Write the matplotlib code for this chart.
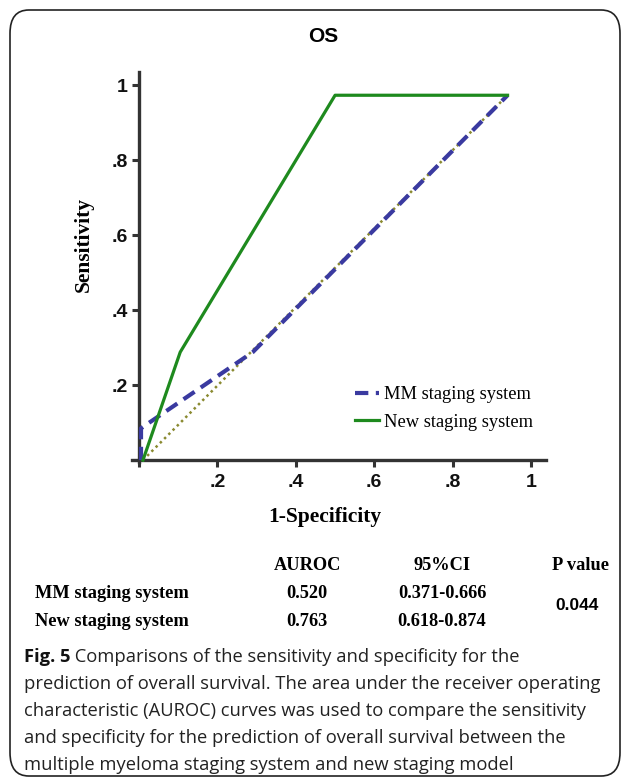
import matplotlib
matplotlib.use("Agg")
import matplotlib.pyplot as plt
from matplotlib.patches import FancyBboxPatch

W, H = 627, 780

# ROC points
new_fpr = [0.01, 0.105, 0.50, 0.94]
new_tpr = [0.0, 0.288, 0.973, 0.973]
mm_fpr = [0.005, 0.005, 0.29, 0.94]
mm_tpr = [0.0, 0.085, 0.288, 0.973]
ref_fpr = [0.01, 0.94]
ref_tpr = [0.0, 0.973]

tick_vals = [0, 0.2, 0.4, 0.6, 0.8, 1.0]
tick_labels = ["", ".2", ".4", ".6", ".8", "1"]

series_names = ["MM staging system", "New staging system"]
auroc = ["0.520", "0.763"]
ci = ["0.371-0.666", "0.618-0.874"]
p_value = "0.044"

caption_bold = "Fig. 5"
caption_lines = [
    " Comparisons of the sensitivity and specificity for the",
    "prediction of overall survival. The area under the receiver operating",
    "characteristic (AUROC) curves was used to compare the sensitivity",
    "and specificity for the prediction of overall survival between the",
    "multiple myeloma staging system and new staging model",
]

SERIF = "Liberation Serif"
SANS = "Liberation Sans"


def fx(x):
    return x / W


def fy(y):
    return 1 - y / H


fig = plt.figure(figsize=(W / 100, H / 100), dpi=100)

# rounded frame around the whole figure panel
frame = FancyBboxPatch((fx(10), fy(776)), fx(610), 766 / H,
                       boxstyle="round,pad=0,rounding_size=0.03",
                       transform=fig.transFigure, fill=False,
                       edgecolor="#222222", linewidth=1.2)
fig.patches.append(frame)

# axes placed in pixel terms
left, right, top, bottom = 132, 546, 72, 462
ax = fig.add_axes([fx(left), fy(bottom), (right - left) / W, (bottom - top) / H])
ax.set_xlim(-0.018, 1.038)
ax.set_ylim(-0.005, 1.035)

ax.plot(ref_fpr, ref_tpr, color="#8a8a30", lw=1.8, ls=(0, (1, 1.4)), zorder=2)
ax.plot(mm_fpr, mm_tpr, color="#3a3aa0", lw=3, ls=(0, (3.2, 1.8)),
        label=series_names[0], zorder=3)
ax.plot(new_fpr, new_tpr, color="#1e8a1e", lw=2.3, label=series_names[1], zorder=4)

for s in ["top", "right"]:
    ax.spines[s].set_visible(False)
for s in ["left", "bottom"]:
    ax.spines[s].set_position(("data", 0))
    ax.spines[s].set_color("#333333")
    ax.spines[s].set_linewidth(2.4)

ax.set_xticks(tick_vals)
ax.set_xticklabels(tick_labels)
ax.set_yticks(tick_vals)
ax.set_yticklabels(tick_labels)
ax.tick_params(direction="out", length=5, width=2.2, color="#333333", pad=3)
ax.tick_params(axis="x", pad=5)
for lab in ax.get_xticklabels() + ax.get_yticklabels():
    lab.set_fontfamily(SANS)
    lab.set_fontweight("bold")
    lab.set_fontsize(14)
    lab.set_color("#111111")

fig.text(fx(323), fy(36), "OS", family=SANS, weight="bold", fontsize=15,
         ha="center", va="center")
fig.text(fx(84), fy(245), "Sensitivity", family=SERIF, weight="bold",
         fontsize=15.5, rotation=90, ha="center", va="center")
fig.text(fx(325), fy(517), "1-Specificity", family=SERIF, weight="bold",
         fontsize=15.5, ha="center", va="center")

leg = ax.legend(loc="upper left", bbox_to_anchor=(fx(355), fy(386)),
                bbox_transform=fig.transFigure, frameon=False,
                prop={"family": SERIF, "size": 13.3}, handlelength=1.3,
                handletextpad=0.25, labelspacing=0.58, borderpad=0,
                borderaxespad=0)

# summary table under the plot
tab = {"family": SERIF, "weight": "bold", "fontsize": 13.2, "va": "center"}
fig.text(fx(307), fy(566), "AUROC", ha="center", **tab)
fig.text(fx(442), fy(566), "95%CI", ha="center", **tab)
fig.text(fx(580), fy(566), "P value", ha="center", **tab)
row_y = [593, 621]
for i in range(2):
    fig.text(fx(35), fy(row_y[i]), series_names[i], ha="left", **tab)
    fig.text(fx(307), fy(row_y[i]), auroc[i], ha="center", **tab)
    fig.text(fx(442), fy(row_y[i]), ci[i], ha="center", **tab)
fig.text(fx(577), fy(606), p_value, family=SANS, weight="bold", fontsize=12.5,
         ha="center", va="center")

# caption
cap_size = 13.2
cap = {"family": "Open Sans", "fontsize": cap_size, "va": "center", "color": "#222222"}
t0 = fig.text(fx(24), fy(657), caption_bold, family="Open Sans", weight="bold",
              fontsize=cap_size, va="center", color="#111111")
fig.canvas.draw()
bb = t0.get_window_extent()
fig.text(bb.x1 / W, fy(657), caption_lines[0], **cap)
for i, line in enumerate(caption_lines[1:], start=1):
    fig.text(fx(24), fy(657 + 27 * i), line, **cap)

fig.savefig("out.png", dpi=100)
